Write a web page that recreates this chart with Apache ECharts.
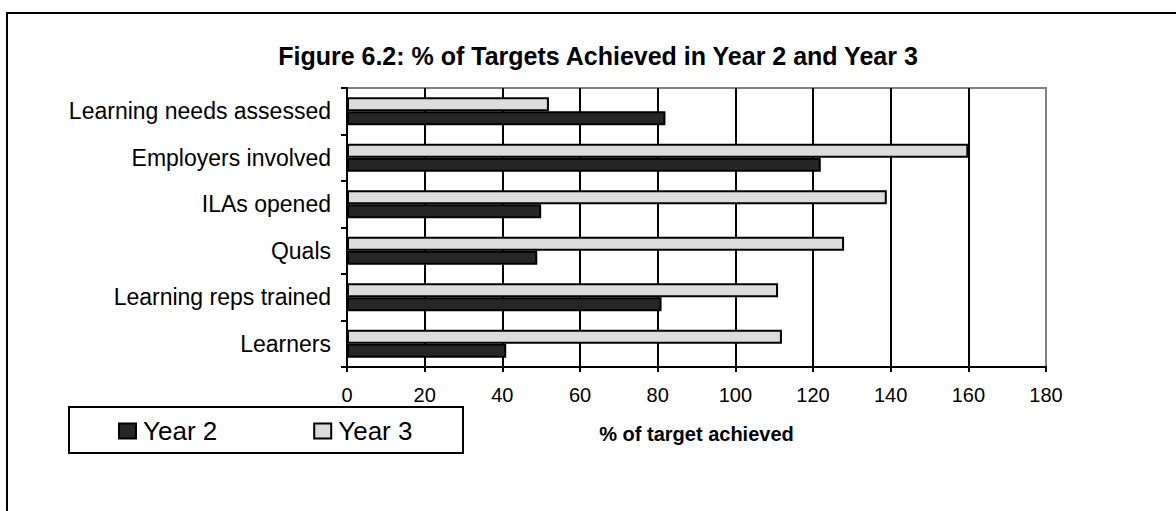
<!DOCTYPE html>
<html>
<head>
<meta charset="utf-8">
<script src="https://cdn.jsdelivr.net/npm/echarts@6/dist/echarts.min.js"></script>
<style>
html,body{margin:0;padding:0;background:#fff;}
#chart{width:1176px;height:511px;}
</style>
</head>
<body>
<div id="chart"></div>
<script>
// Categories listed bottom to top (ECharts category y-axis starts at the bottom)
const categories = ['Learners', 'Learning reps trained', 'Quals', 'ILAs opened', 'Employers involved', 'Learning needs assessed'];
const year2 = [41, 81, 49, 50, 122, 82];
const year3 = [112, 111, 128, 139, 160, 52];
const xTicks = [0, 20, 40, 60, 80, 100, 120, 140, 160, 180];
const seriesNames = ['Year 2', 'Year 3'];
const titleText = 'Figure 6.2: % of Targets Achieved in Year 2 and Year 3';
const xAxisTitle = '% of target achieved';

const FONT = '"Liberation Sans", Arial, sans-serif';
const chart = echarts.init(document.getElementById('chart'), null, {renderer: 'svg'});

const splitColors = xTicks.map((v, i) => i === xTicks.length - 1 ? '#808080' : '#000000');

chart.setOption({
  animation: false,
  backgroundColor: '#ffffff',
  textStyle: {fontFamily: FONT, color: '#000'},
  grid: {
    left: 347, right: 130, top: 88, bottom: 144,
    show: true, borderColor: '#808080', borderWidth: 2, backgroundColor: 'transparent'
  },
  graphic: [
    {type: 'rect', shape: {x: 7, y: 13, width: 1300, height: 700},
     style: {fill: 'none', stroke: '#000', lineWidth: 2}, silent: true, z: -1},
    {type: 'rect', shape: {x: 69, y: 407, width: 394, height: 46},
     style: {fill: '#fff', stroke: '#000', lineWidth: 2}, silent: true, z: 0},
    {type: 'text', x: 598, y: 56,
     style: {text: titleText, font: 'bold 25px ' + FONT, fill: '#000', textAlign: 'center', textVerticalAlign: 'middle'}, z: 10}
  ],
  legend: {
    data: seriesNames,
    left: 118, top: 418,
    padding: 0,
    icon: 'rect',
    itemWidth: 17, itemHeight: 15, itemGap: 96,
    selectedMode: false,
    textStyle: {fontFamily: FONT, fontSize: 26, color: '#000', padding: [0, 0, 0, 2]},
    z: 5
  },
  xAxis: {
    type: 'value',
    min: 0, max: 180, interval: 20,
    name: xAxisTitle,
    nameLocation: 'middle',
    nameGap: 57,
    nameTextStyle: {fontFamily: FONT, fontSize: 20, fontWeight: 'bold', color: '#000'},
    axisLine: {show: true, lineStyle: {color: '#000', width: 2}},
    axisTick: {show: true, length: 5, lineStyle: {color: '#000', width: 2}},
    axisLabel: {fontFamily: FONT, fontSize: 20, color: '#000', margin: 18},
    splitLine: {show: true, lineStyle: {color: splitColors, width: 2}}
  },
  yAxis: {
    type: 'category',
    data: categories,
    axisLine: {show: true, lineStyle: {color: '#000', width: 2}},
    axisTick: {show: true, length: 6, lineStyle: {color: '#000', width: 2}},
    axisLabel: {fontFamily: FONT, fontSize: 23, color: '#000', margin: 16}
  },
  series: [
    {
      name: seriesNames[1], type: 'bar', data: year3,
      barWidth: 14, barGap: '0%',
      itemStyle: {color: '#dcdcdc', borderColor: '#000', borderWidth: 2}
    },
    {
      name: seriesNames[0], type: 'bar', data: year2,
      barWidth: 14, barGap: '0%',
      itemStyle: {color: '#262626', borderColor: '#000', borderWidth: 2}
    }
  ]
});
</script>
</body>
</html>
